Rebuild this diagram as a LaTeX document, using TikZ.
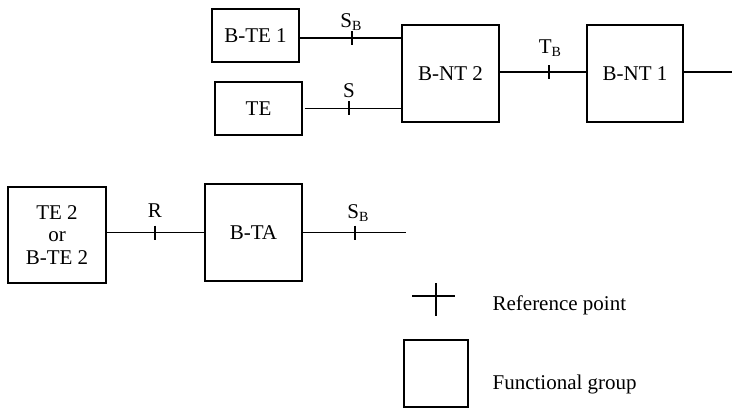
\documentclass[tikz,border=0pt]{standalone}
\usepackage{fontspec}
\setmainfont{Liberation Serif}
\newcommand{\subB}{\raisebox{-3pt}{\fontsize{14}{14}\selectfont B}}
\begin{document}
\begin{tikzpicture}[x=1pt,y=-1pt,
  font=\fontsize{21}{22.5}\selectfont,
  line width=1.2pt,
  box/.style={draw, inner sep=0, align=center},
  lab/.style={anchor=base, inner sep=0},
  note/.style={anchor=base west, inner sep=0}]
\useasboundingbox (0,0) rectangle (732,408);
% boxes
\node[box, minimum width=87, minimum height=53] (bte1) at (255.5,35.5) {B-TE 1};
\node[box, minimum width=87, minimum height=53] (te) at (258.5,108.5) {TE};
\node[box, minimum width=97, minimum height=97] (bnt2) at (450.5,73.5) {B-NT 2};
\node[box, minimum width=96, minimum height=97] (bnt1) at (635,73.5) {B-NT 1};
\node[box, minimum width=98, minimum height=96] (te2) at (57,235) {TE 2\\or\\B-TE 2};
\node[box, minimum width=97, minimum height=97] (bta) at (253.5,232.5) {B-TA};
% free ends
\coordinate (end1) at (732,72);
\coordinate (end2) at (406,232.5);
% connectors
\draw ([yshift=-2.5pt]bte1.east) -- ([yshift=-2.5pt]bte1.east -| bnt2.west);
\draw ([xshift=2pt]te.east) -- ([xshift=2pt]te.east -| bnt2.west);
\draw ([yshift=1.5pt]bnt2.east) -- ([yshift=1.5pt]bnt2.east -| bnt1.west);
\draw ([yshift=1.5pt]bnt1.east) -- (end1);
\draw (te2.east |- bta.west) -- (bta.west);
\draw (bta.east) -- (end2);
% reference point ticks
\coordinate (t1) at (352,38);
\coordinate (t2) at (349,108);
\coordinate (t3) at (549,72);
\coordinate (t4) at (155,232.5);
\coordinate (t5) at (355,232.5);
\foreach \t in {t1,t2,t3,t4,t5}
  \draw ([yshift=7pt]\t) -- ([yshift=-7pt]\t);
% labels
\node[lab] (l1) at (351,27) {S\subB};
\node[lab] (l2) at (349,97) {S};
\node[lab] (l3) at (550,53) {T\subB};
\node[lab] (l4) at (155,217) {R};
\node[lab] (l5) at (358,218) {S\subB};
% legend
\coordinate (ch1) at (412,296);
\coordinate (ch2) at (455,296);
\coordinate (cv1) at (436,283);
\coordinate (cv2) at (436,316);
\draw (ch1) -- (ch2);
\draw (cv1) -- (cv2);
\node[note] (refp) at (492,310) {Reference point};
\node[box, minimum width=64, minimum height=67] (fg) at (436,373.5) {};
\node[note] (fgt) at (492,389) {Functional group};
\end{tikzpicture}
\end{document}
